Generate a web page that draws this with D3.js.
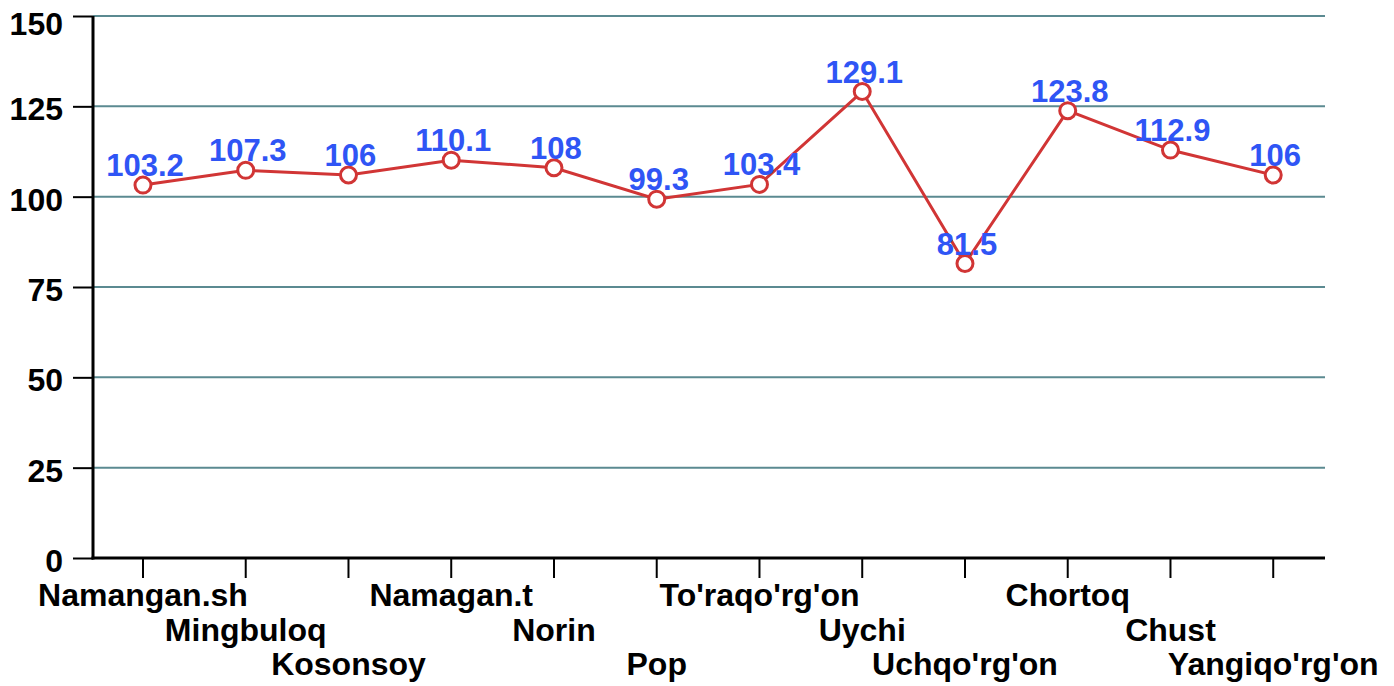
<!DOCTYPE html>
<html><head><meta charset="utf-8">
<script src="https://cdn.jsdelivr.net/npm/d3@7"></script>
<style>html,body{margin:0;padding:0;background:#fff;}svg{display:block;}</style>
</head><body>
<svg id="chart" width="1394" height="686"></svg>
<script>
const categories = ["Namangan.sh","Mingbuloq","Kosonsoy","Namagan.t","Norin","Pop","To'raqo'rg'on","Uychi","Uchqo'rg'on","Chortoq","Chust","Yangiqo'rg'on"];
const values = [103.2,107.3,106,110.1,108,99.3,103.4,129.1,81.5,123.8,112.9,106];
const yTicks = [0,25,50,75,100,125,150];

(function(){
const svg = d3.select("#chart");
const font = "'Liberation Sans', Arial, sans-serif";
const axisX = 93, mRight = 1325, mTop = 16, mBottom = 558;

const x = d3.scaleBand().domain(categories).range([91.6, 1324.6]).padding(0);
const y = d3.scaleLinear().domain([0,150]).range([mBottom, mTop]);
const cx = d => x(d) + x.bandwidth()/2;

// gridlines
svg.append("g").selectAll("line").data(yTicks.filter(t=>t>0)).join("line")
  .attr("x1", axisX).attr("x2", mRight)
  .attr("y1", d=>y(d)).attr("y2", d=>y(d))
  .attr("stroke", "#5b8a91").attr("stroke-width", 2);

// y axis
const yAxis = svg.append("g").attr("transform", `translate(${axisX},0)`)
  .call(d3.axisLeft(y).tickValues(yTicks).tickSize(20).tickPadding(10));
yAxis.select(".domain").attr("stroke","#000").attr("stroke-width",3).attr("d", `M0,${mTop}V${mBottom+1.5}`);
yAxis.selectAll(".tick line").attr("stroke","#000").attr("stroke-width",2);
yAxis.selectAll(".tick text").attr("font-family", font).attr("font-size", 32).attr("font-weight","bold").attr("fill","#000")
  .attr("dy", d => d === 150 ? "18px" : "0.42em");

// x axis
const xAxis = svg.append("g").attr("transform", `translate(0,${mBottom})`)
  .call(d3.axisBottom(x).tickSize(20).tickPadding(0));
xAxis.select(".domain").attr("stroke","#000").attr("stroke-width",3).attr("d", `M${axisX-1.5},0H${mRight}`);
xAxis.selectAll(".tick line").attr("stroke","#000").attr("stroke-width",2);
xAxis.selectAll(".tick text").attr("font-family", font).attr("font-size", 32).attr("font-weight","bold").attr("fill","#000")
  .attr("dy", null)
  .attr("y", (d,i) => 48 + (i%3)*34.5);

// line
svg.append("path").datum(values)
  .attr("fill","none").attr("stroke","#d13535").attr("stroke-width",3)
  .attr("d", d3.line().x((d,i)=>cx(categories[i])).y(d=>y(d)));

// points
svg.append("g").selectAll("circle").data(values).join("circle")
  .attr("cx",(d,i)=>cx(categories[i])).attr("cy",d=>y(d)).attr("r",8)
  .attr("fill","#fff").attr("stroke","#d13535").attr("stroke-width",3);

// labels
svg.append("g").selectAll("text").data(values).join("text")
  .attr("x",(d,i)=>cx(categories[i])+2).attr("y",d=>y(d)-9)
  .attr("text-anchor","middle")
  .attr("font-family", font).attr("font-size", 31).attr("font-weight","bold")
  .attr("fill","#2f55f5")
  .text(d=>d);
})();
</script>
</body></html>
